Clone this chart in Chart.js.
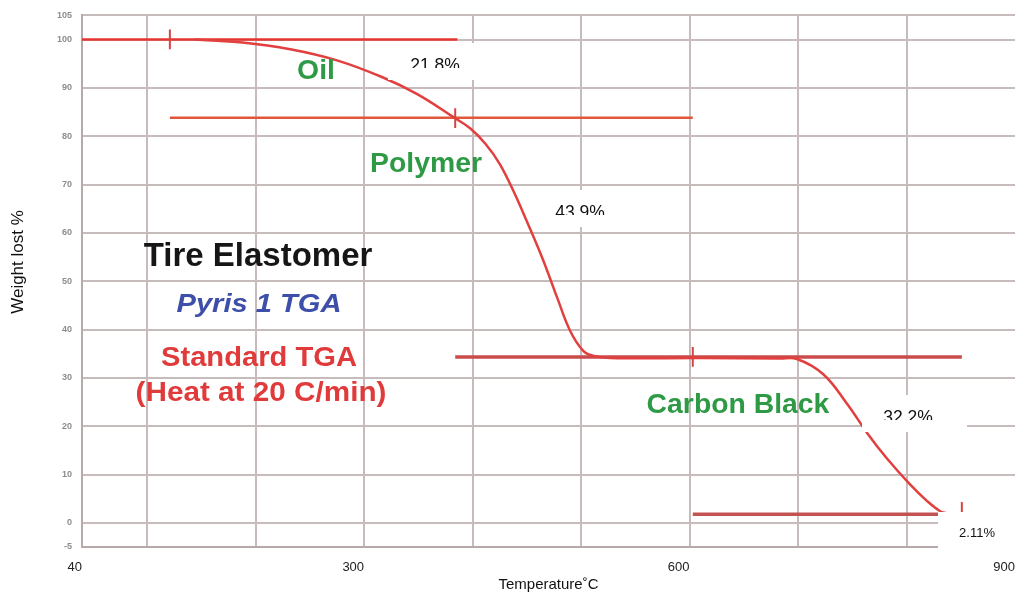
<!DOCTYPE html>
<html>
<head>
<meta charset="utf-8">
<script src="https://cdn.jsdelivr.net/npm/chart.js@4.4.0/dist/chart.umd.min.js"></script>
<style>
  body { margin: 0; background: #fff; }
  #wrap { width: 1015px; height: 596px; }
</style>
</head>
<body>
<div id="wrap"><canvas id="tga" width="1015" height="596"></canvas></div>
<script>
// TGA curve (temperature in C, weight %)
const tempC = [144, 188, 232, 275, 317, 349, 382, 398, 412, 425, 438, 450, 465, 478, 490, 502, 511, 527, 610, 683, 699, 723, 745, 764, 782, 803, 819, 831, 837];
const weightPct = [100, 99.4, 98.0, 95.7, 92.2, 88.7, 84.0, 81.6, 78.4, 74.3, 68.5, 62.4, 54.4, 46.6, 39.7, 35.6, 34.6, 34.1, 34.1, 34.0, 33.9, 30.8, 24.7, 18.5, 13.3, 8.0, 4.5, 2.4, 2.0];

// step levels drawn across each weight-loss stage
const stepLevel = [100, 83.8, 34.3, 1.8];
const stepStart = [40, 121, 384, 603];
const stepEnd = [386, 603, 851, 872];

// short vertical marks on each step line
const markX = [121, 384, 603, 851];
const markLow = [98.0, 81.7, 32.3, 1.8];
const markHigh = [102.1, 85.8, 36.4, 4.3];

const lossLabels = ["21.8%", "43.9%", "32.2%", "2.11%"];
const stageNames = ["Oil", "Polymer", "Carbon Black"];

const xGridTicks = [40, 100, 200, 300, 400, 500, 600, 700, 800, 900];
const xTickLabels = [40, 300, 600, 900];
const yTicks = [-5, 0, 10, 20, 30, 40, 50, 60, 70, 80, 90, 100, 105];

const stepColors = ["#e5352f", "#e2573a", "#c94b4b", "#c35353"];
const stepWidths = [2.5, 2.5, 3.5, 3.5];

const datasets = [
  {
    data: tempC.map((t, i) => ({ x: t, y: weightPct[i] })),
    borderColor: "#e23f3f",
    borderWidth: 2.5,
    pointRadius: 0,
    tension: 0.4,
    order: 0,
  },
];
stepLevel.forEach((lvl, i) => {
  datasets.push({
    data: [{ x: stepStart[i], y: lvl }, { x: stepEnd[i], y: lvl }],
    borderColor: stepColors[i],
    borderWidth: stepWidths[i],
    pointRadius: 0,
    order: 2,
  });
  datasets.push({
    data: [{ x: markX[i], y: markLow[i] }, { x: markX[i], y: markHigh[i] }],
    borderColor: "#d64444",
    borderWidth: 2,
    pointRadius: 0,
    order: 1,
  });
});

// text overlays of the scanned figure (pixel positions)
function scaledText(ctx, text, cx, cy, font, color, sx) {
  ctx.save();
  ctx.translate(cx, cy);
  ctx.scale(sx, 1);
  ctx.font = font;
  ctx.fillStyle = color;
  ctx.textAlign = "center";
  ctx.textBaseline = "middle";
  ctx.fillText(text, 0, 0);
  ctx.restore();
}

const overlayPlugin = {
  id: "overlay",
  afterDatasetsDraw(chart) {
    const ctx = chart.ctx;
    const green = "#2f9a45";
    const red = "#e03a3a";
    scaledText(ctx, stageNames[0], 316, 72, "bold 27px Arial, 'Liberation Sans'", green, 1.05);
    scaledText(ctx, stageNames[1], 426, 165, "bold 27px Arial, 'Liberation Sans'", green, 1.05);
    scaledText(ctx, stageNames[2], 738, 406, "bold 27px Arial, 'Liberation Sans'", green, 1.05);
    scaledText(ctx, "Tire Elastomer", 258, 257, "bold 33px Arial, 'Liberation Sans'", "#161616", 1.0);
    scaledText(ctx, "Pyris 1 TGA", 259, 305, "italic bold 26px Arial, 'Liberation Sans'", "#3d4fa8", 1.12);
    scaledText(ctx, "Standard TGA", 259, 359, "bold 27px Arial, 'Liberation Sans'", red, 1.08);
    scaledText(ctx, "(Heat at 20 C/min)", 261, 394, "bold 27px Arial, 'Liberation Sans'", red, 1.1);

    // white label boxes with percentages, first three cut at the bottom
    const boxes = [
      { x: 388, y: 43, w: 105, h: 37, tx: 435, base: 70.5, clip: 68 },
      { x: 533, y: 190, w: 107, h: 37, tx: 580, base: 217.5, clip: 215 },
      { x: 862, y: 395, w: 105, h: 37, tx: 908, base: 422.5, clip: 420 },
    ];
    boxes.forEach((b, i) => {
      ctx.save();
      ctx.fillStyle = "#fff";
      ctx.fillRect(b.x, b.y, b.w, b.h);
      ctx.beginPath();
      ctx.rect(b.x, b.y, b.w, b.clip - b.y);
      ctx.clip();
      ctx.font = "17.5px Arial, 'Liberation Sans'";
      ctx.fillStyle = "#111";
      ctx.textAlign = "center";
      ctx.textBaseline = "alphabetic";
      ctx.fillText(lossLabels[i], b.tx, b.base);
      ctx.restore();
    });
    ctx.save();
    ctx.fillStyle = "#fff";
    ctx.fillRect(938, 512, 77, 36);
    ctx.font = "13px Arial, 'Liberation Sans'";
    ctx.fillStyle = "#111";
    ctx.textAlign = "center";
    ctx.textBaseline = "middle";
    ctx.fillText(lossLabels[3], 977, 533);
    ctx.restore();

    // y axis title
    ctx.save();
    ctx.translate(18, 262);
    ctx.rotate(-Math.PI / 2);
    ctx.font = "17px Arial, 'Liberation Sans'";
    ctx.fillStyle = "#111";
    ctx.textAlign = "center";
    ctx.textBaseline = "middle";
    ctx.fillText("Weight lost %", 0, 0);
    ctx.restore();
  },
};

const gridColor = "#c6bcbc";

new Chart(document.getElementById("tga"), {
  type: "line",
  data: { datasets },
  plugins: [overlayPlugin],
  options: {
    responsive: false,
    animation: false,
    layout: { padding: { top: 13, right: 0, left: 0, bottom: 0 } },
    plugins: { legend: { display: false }, tooltip: { enabled: false } },
    scales: {
      x: {
        type: "linear",
        min: 40,
        max: 900,
        afterBuildTicks: (scale) => {
          scale.ticks = xGridTicks.map((v) => ({ value: v }));
        },
        afterFit: (scale) => {
          scale.height = 49;
          scale.paddingRight = 0;
        },
        grid: {
          color: (c) => (c.tick && c.tick.value === 900 ? "rgba(0,0,0,0)" : gridColor),
          lineWidth: 2,
          drawTicks: false,
        },
        border: { color: "#b5a9a9", width: 2 },
        ticks: {
          align: "end",
          padding: 13,
          maxRotation: 0,
          autoSkip: false,
          color: "#222",
          font: { family: "Arial, 'Liberation Sans'", size: 13 },
          callback: (v) => (xTickLabels.includes(v) ? String(v) : ""),
        },
        title: {
          display: true,
          text: "Temperature˚C",
          color: "#111",
          font: { family: "Arial, 'Liberation Sans'", size: 15 },
          padding: { top: 0, bottom: 2 },
        },
      },
      y: {
        min: -5,
        max: 105,
        afterBuildTicks: (scale) => {
          scale.ticks = yTicks.map((v) => ({ value: v }));
        },
        afterFit: (scale) => {
          scale.width = 82;
        },
        grid: { color: gridColor, lineWidth: 2, drawTicks: false },
        border: { color: "#b5a9a9", width: 2 },
        ticks: {
          padding: 10,
          color: "#8c8c8c",
          font: { family: "Arial, 'Liberation Sans'", size: 9, weight: "bold" },
        },
      },
    },
  },
});
</script>
</body>
</html>
